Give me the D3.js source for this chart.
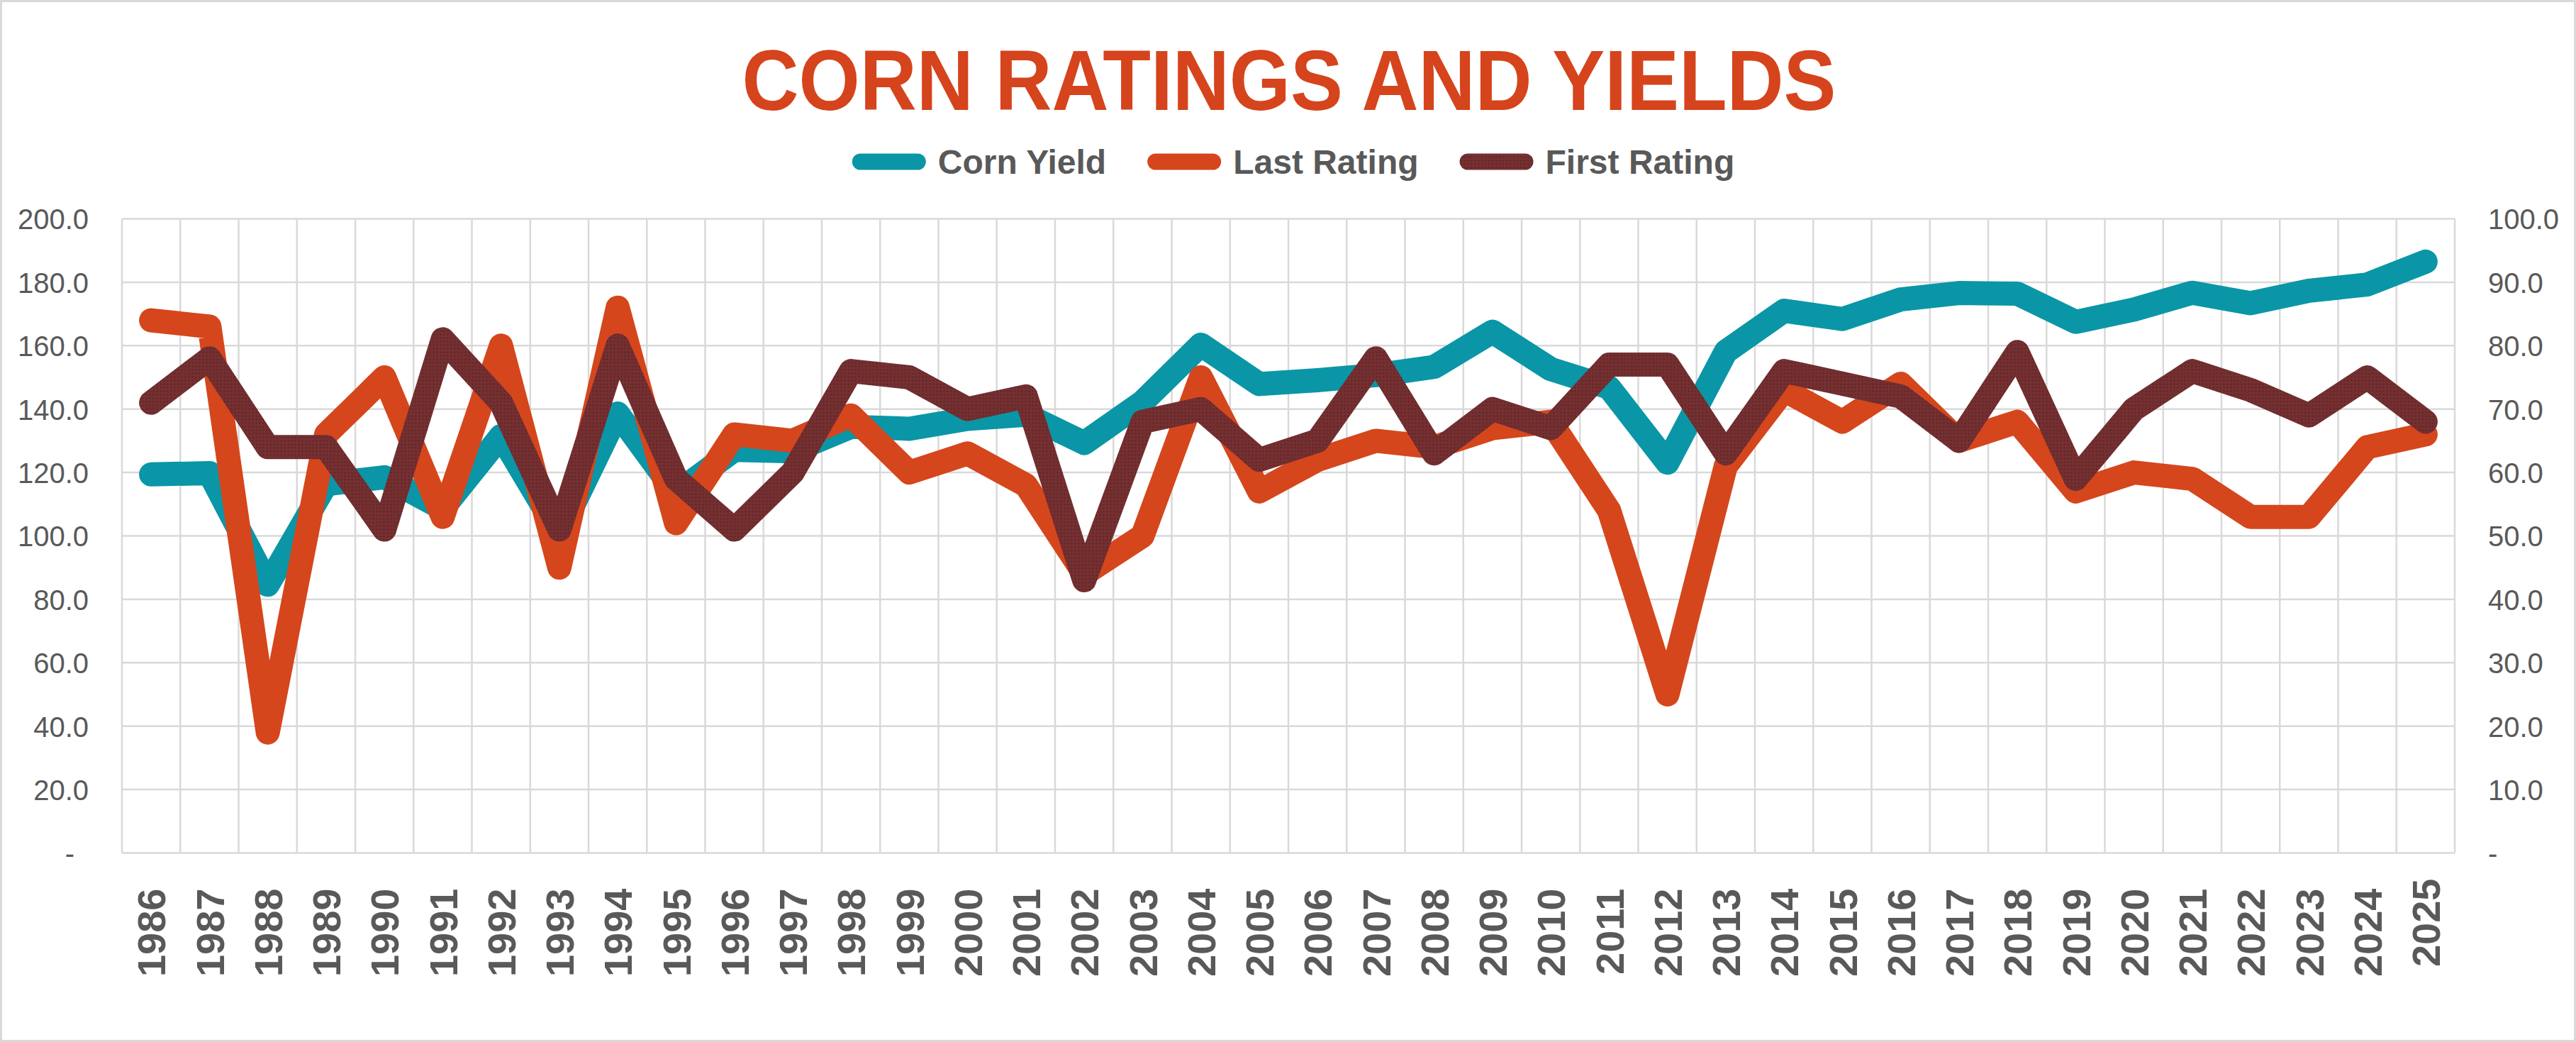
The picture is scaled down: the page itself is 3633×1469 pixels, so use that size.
<!DOCTYPE html>
<html>
<head>
<meta charset="utf-8">
<script src="https://cdn.jsdelivr.net/npm/d3@7"></script>
<style>
  body { margin: 0; background: #fff; }
  svg { display: block; }
</style>
</head>
<body>
<div id="chart"></div>
<script>
// categories (x axis)
const years = ["1986","1987","1988","1989","1990","1991","1992","1993","1994","1995",
  "1996","1997","1998","1999","2000","2001","2002","2003","2004","2005",
  "2006","2007","2008","2009","2010","2011","2012","2013","2014","2015",
  "2016","2017","2018","2019","2020","2021","2022","2023","2024","2025"];

// bu/acre, left axis
const cornYield = [119.4,119.8,84.6,116.3,118.5,108.6,131.5,100.7,138.6,113.5,
  127.1,126.7,134.4,133.8,136.9,138.2,129.3,142.2,160.3,147.9,
  149.1,150.7,153.3,164.4,152.6,146.8,123.1,158.1,171.0,168.4,
  174.6,176.6,176.4,167.5,171.4,176.7,173.4,177.3,179.3,186.5];

// % good/excellent, right axis
const lastRating = [84,83,19,66,75,53,80,45,86,52,
  66,65,69,60,63,58,44,50,75,57,
  62,65,64,67,68,54,25,61,73,68,
  74,65,68,57,60,59,53,53,64,66];

const firstRating = [71,78,64,64,51,81,71,51,80,59,
  51,60,76,75,70,72,43,68,70,62,
  65,78,63,70,67,77,77,63,76,74,
  72,65,79,59,70,76,73,69,75,68];

const leftTicks = [0,20,40,60,80,100,120,140,160,180,200];
const rightTicks = [0,10,20,30,40,50,60,70,80,90,100];

const seriesNames = ["Corn Yield", "Last Rating", "First Rating"];

// layout
const W = 3633, H = 1469;
const plot = {left: 172, right: 3462, top: 308.5, bottom: 1202.5};
const textGray = "#595959";
const gridGray = "#D9D9D9";
const colors = {"Corn Yield": "#0A96A6", "Last Rating": "#D5461C", "First Rating": "url(#brownDots)"};
const font = "'Liberation Sans', Arial, sans-serif";

const svg = d3.select("#chart").append("svg")
  .attr("width", W)
  .attr("height", H);

// dotted texture for the First Rating line
const defs = svg.append("defs");
const pat = defs.append("pattern")
  .attr("id", "brownDots")
  .attr("patternUnits", "userSpaceOnUse")
  .attr("width", 5)
  .attr("height", 5);
pat.append("rect").attr("width", 5).attr("height", 5).attr("fill", "#742F31");
pat.append("circle").attr("cx", 1.5).attr("cy", 1.5).attr("r", 0.8).attr("fill", "#4A1A1C");

svg.append("rect")
  .attr("x", 1.5).attr("y", 1.5)
  .attr("width", W - 3).attr("height", H - 3)
  .attr("fill", "#fff")
  .attr("stroke", gridGray)
  .attr("stroke-width", 3);

// scales
const x = d3.scaleBand()
  .domain(years)
  .range([plot.left, plot.right]);
const cx = d => x(d) + x.bandwidth() / 2;

const yLeft = d3.scaleLinear().domain([0, 200]).range([plot.bottom, plot.top]);
const yRight = d3.scaleLinear().domain([0, 100]).range([plot.bottom, plot.top]);

// gridlines
const grid = svg.append("g").attr("stroke", gridGray).attr("stroke-width", 2.5);
grid.selectAll("line.h")
  .data(leftTicks)
  .join("line")
    .attr("class", "h")
    .attr("x1", plot.left).attr("x2", plot.right)
    .attr("y1", d => yLeft(d)).attr("y2", d => yLeft(d));
grid.selectAll("line.v")
  .data(years.concat(["end"]))
  .join("line")
    .attr("class", "v")
    .attr("x1", (d, i) => plot.left + i * x.bandwidth())
    .attr("x2", (d, i) => plot.left + i * x.bandwidth())
    .attr("y1", plot.top).attr("y2", plot.bottom);

// left axis
const fmt = d => d === 0 ? "-" : d3.format(".1f")(d);
const gLeft = svg.append("g")
  .attr("transform", `translate(${plot.left},0)`)
  .call(d3.axisLeft(yLeft).tickValues(leftTicks).tickSize(0).tickPadding(47).tickFormat(fmt));
gLeft.select(".domain").remove();
gLeft.selectAll("text")
  .style("font-family", font)
  .style("font-size", "40px")
  .attr("fill", textGray)
  .attr("dy", "0.36em")
  .attr("dx", d => d === 0 ? -20 : 0);

// right axis
const gRight = svg.append("g")
  .attr("transform", `translate(${plot.right},0)`)
  .call(d3.axisRight(yRight).tickValues(rightTicks).tickSize(0).tickPadding(47).tickFormat(fmt));
gRight.select(".domain").remove();
gRight.selectAll("text")
  .style("font-family", font)
  .style("font-size", "40px")
  .attr("fill", textGray)
  .attr("dy", "0.36em");

// bottom axis, rotated year labels
const gBottom = svg.append("g")
  .attr("transform", `translate(0,${plot.bottom})`)
  .call(d3.axisBottom(x).tickSize(0));
gBottom.select(".domain").remove();
gBottom.selectAll("text")
  .style("font-family", font)
  .style("font-size", "56px")
  .style("font-weight", "bold")
  .attr("fill", textGray)
  .attr("text-anchor", "end")
  .attr("transform", "rotate(-90)")
  .attr("x", (d, i) => i === years.length - 1 ? -36 : -50)
  .attr("y", 0)
  .attr("dy", "0.36em");

// lines
const series = [
  {name: "Corn Yield", values: cornYield, y: yLeft},
  {name: "Last Rating", values: lastRating, y: yRight},
  {name: "First Rating", values: firstRating, y: yRight}
];

svg.append("g")
  .selectAll("path")
  .data(series)
  .join("path")
    .attr("fill", "none")
    .attr("stroke", d => colors[d.name])
    .attr("stroke-width", 34)
    .attr("stroke-linejoin", "round")
    .attr("stroke-linecap", "round")
    .attr("d", s => d3.line()
      .x((v, i) => cx(years[i]))
      .y(v => s.y(v))(s.values));

// title
svg.append("text")
  .attr("x", 1818)
  .attr("y", 155)
  .attr("text-anchor", "middle")
  .attr("textLength", 1543)
  .attr("lengthAdjust", "spacingAndGlyphs")
  .style("font-family", font)
  .style("font-size", "121px")
  .style("font-weight", "bold")
  .attr("fill", "#D5441C")
  .text("CORN RATINGS AND YIELDS");

// legend
const legend = svg.append("g");
let lx = 0;
seriesNames.forEach((name, i) => {
  const item = legend.append("g").attr("transform", `translate(${lx},0)`);
  item.append("line")
    .attr("x1", 11.5).attr("x2", 104 - 11.5)
    .attr("y1", 228).attr("y2", 228)
    .attr("stroke", colors[name])
    .attr("stroke-width", 23)
    .attr("stroke-linecap", "round");
  const t = item.append("text")
    .attr("x", 121)
    .attr("y", 245)
    .style("font-family", font)
    .style("font-size", "48px")
    .style("font-weight", "bold")
    .attr("fill", textGray)
    .text(name);
  lx += 121 + t.node().getComputedTextLength() + 58;
});
const legendWidth = lx - 58;
legend.attr("transform", `translate(${1824 - legendWidth / 2},0)`);
</script>
</body>
</html>
